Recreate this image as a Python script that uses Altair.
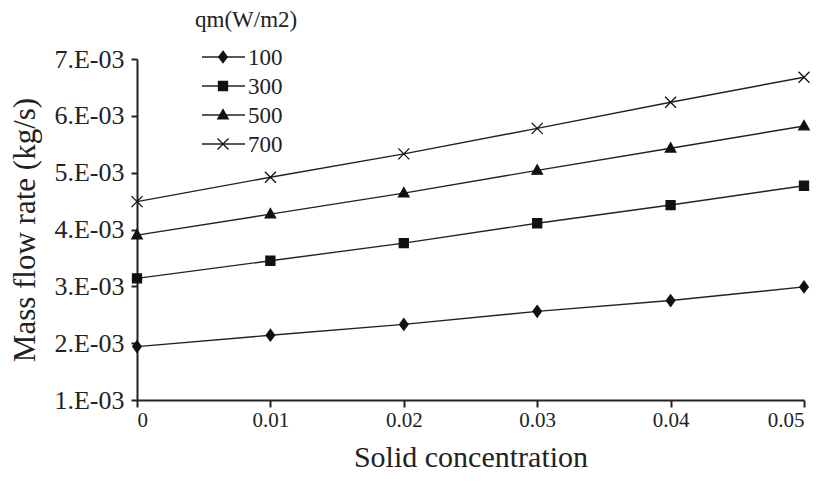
import altair as alt
import pandas as pd

# ---- data ----
conc = [0.0, 0.01, 0.02, 0.03, 0.04, 0.05]
series = ["100", "300", "500", "700"]
q100 = [1.94e-3, 2.14e-3, 2.33e-3, 2.56e-3, 2.75e-3, 2.99e-3]
q300 = [3.14e-3, 3.45e-3, 3.76e-3, 4.11e-3, 4.43e-3, 4.77e-3]
q500 = [3.90e-3, 4.27e-3, 4.64e-3, 5.04e-3, 5.43e-3, 5.82e-3]
q700 = [4.49e-3, 4.92e-3, 5.33e-3, 5.78e-3, 6.24e-3, 6.68e-3]
y_ticks = [0.001, 0.002, 0.003, 0.004, 0.005, 0.006, 0.007]
x_ticks = [0.0, 0.01, 0.02, 0.03, 0.04, 0.05]
legend_title = "qm(W/m2)"

rows = []
for name, vals in zip(series, [q100, q300, q500, q700]):
    for c, v in zip(conc, vals):
        rows.append({"conc": c, "flow": v, "qm": name})
df = pd.DataFrame(rows)
leg_df = pd.DataFrame({"qm": series})
title_df = pd.DataFrame({"t": [legend_title]})

FONT = "Liberation Serif"
INK = "#222222"
MARK = "#111111"

# marker shapes (custom paths, unit = sqrt(size)/2)
chart_shapes = [
    "M0,-1.15L0.85,0L0,1.15L-0.85,0Z",
    "M-0.9,-0.9H0.9V0.9H-0.9Z",
    "M0,-1.1L1.05,0.75H-1.05Z",
    "M-1.1,-1.1L1.1,1.1M-1.1,1.1L1.1,-1.1",
]
shape_scale = alt.Scale(domain=series, range=chart_shapes)

x_enc = alt.X(
    "conc:Q",
    scale=alt.Scale(domain=[0, 0.05], nice=False),
    axis=alt.Axis(
        values=x_ticks,
        labelExpr="datum.value == 0 ? '0' : format(datum.value, '.2f')",
        title="Solid concentration",
        titleFontSize=30,
        grid=False,
        tickSize=7,
        labelPadding=2,
        titlePadding=12,
    ),
)
y_enc = alt.Y(
    "flow:Q",
    scale=alt.Scale(domain=[0.001, 0.007], nice=False, zero=False),
    axis=alt.Axis(
        values=y_ticks,
        labelExpr="format(datum.value * 1000, '.0f') + '.E-03'",
        title="Mass flow rate (kg/s)",
        grid=False,
        tickSize=6,
        labelPadding=7,
        titlePadding=12,
    ),
)

lines = alt.Chart(df).mark_line(color=INK, strokeWidth=1.4).encode(
    x=x_enc, y=y_enc, detail="qm:N"
)
points = alt.Chart(df).mark_point(
    filled=True, fill=MARK, stroke=MARK, strokeWidth=1.3, size=100, opacity=1
).encode(
    x="conc:Q",
    y="flow:Q",
    shape=alt.Shape("qm:N", scale=shape_scale, legend=None),
)
data_layer = alt.layer(lines, points)

# ---- legend drawn as its own small layer (line + marker + label per series) ----
leg_y = alt.Y(
    "qm:N",
    scale=alt.Scale(type="point", domain=series, range=[-2, 85], padding=0),
    axis=None,
)
leg_base = alt.Chart(leg_df).encode(y=leg_y)
leg_rule = leg_base.mark_rule(color=INK, strokeWidth=1.4).encode(
    x=alt.value(65), x2=alt.value(108)
)
leg_mark = leg_base.mark_point(
    filled=True, fill=MARK, stroke=MARK, strokeWidth=1.3, size=100, opacity=1
).encode(
    x=alt.value(86),
    shape=alt.Shape("qm:N", scale=shape_scale, legend=None),
)
leg_text = leg_base.mark_text(
    align="left", baseline="middle", font=FONT, fontSize=23, color=INK, dy=1
).encode(x=alt.value(111), text="qm:N")
leg_title = alt.Chart(title_df).mark_text(
    align="left", baseline="middle", font=FONT, fontSize=23, color=INK
).encode(x=alt.value(58), y=alt.value(-39), text="t:N")
legend_layer = alt.layer(leg_rule, leg_mark, leg_text, leg_title)

chart = (
    alt.layer(data_layer, legend_layer)
    .resolve_scale(y="independent")
    .properties(
        width=667,
        height=341,
        autosize=alt.AutoSizeParams(type="none"),
        padding={"left": 129, "top": 51, "right": 14, "bottom": 75},
    )
    .configure_view(stroke=None)
    .configure_axis(
        labelFont=FONT,
        titleFont=FONT,
        labelFontSize=21,
        titleFontSize=31,
        titleFontWeight="normal",
        labelColor=INK,
        titleColor=INK,
        domainColor=INK,
        tickColor=INK,
        domainWidth=2,
        tickWidth=2,
    )
    .configure_axisY(labelFontSize=26)
)

chart.save("out.html", embed_options={"renderer": "svg", "actions": False})
